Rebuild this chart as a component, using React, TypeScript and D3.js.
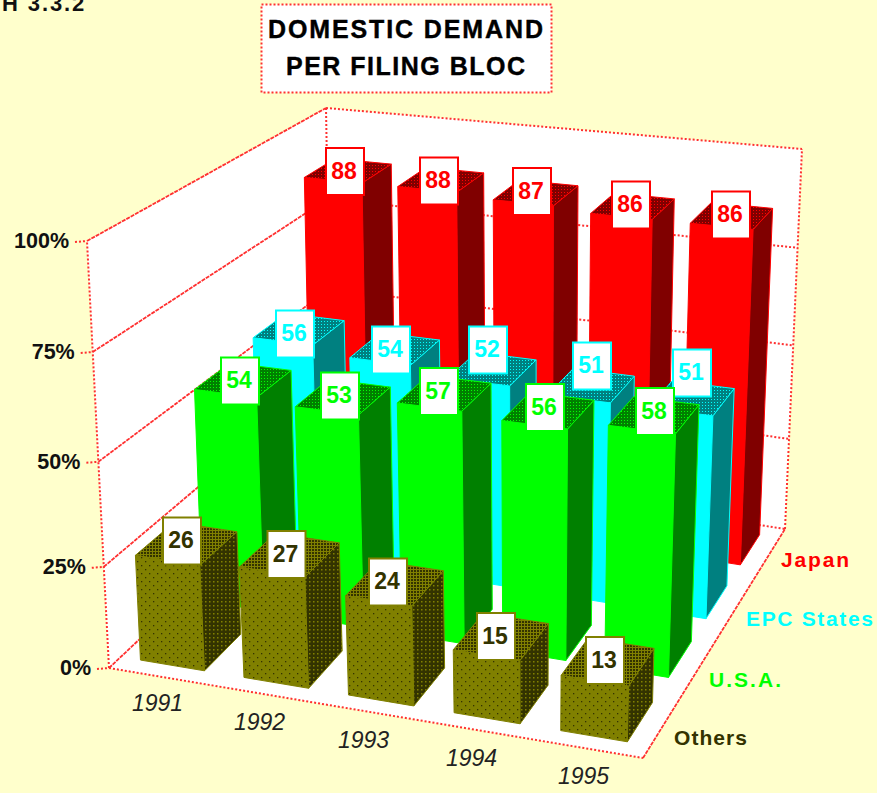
import React from "react";
import * as d3 from "d3";

const years = ["1991", "1992", "1993", "1994", "1995"];
const rows = ["Japan", "EPC States", "U.S.A.", "Others"];
const japan = [88, 88, 87, 86, 86];
const epc = [56, 54, 52, 51, 51];
const usa = [54, 53, 57, 56, 58];
const others = [26, 27, 24, 15, 13];
const seriesValues = [japan, epc, usa, others];
const pctTicks = [0, 25, 50, 75, 100];

type P = [number, number];
const W = 877, H = 793;

function homography(p00: P, p10: P, p11: P, p01: P) {
  const [x0, y0] = p00, [x1, y1] = p10, [x2, y2] = p11, [x3, y3] = p01;
  const dx1 = x1 - x2, dx2 = x3 - x2, sx = x0 - x1 + x2 - x3;
  const dy1 = y1 - y2, dy2 = y3 - y2, sy = y0 - y1 + y2 - y3;
  const d = dx1 * dy2 - dx2 * dy1;
  const g = (sx * dy2 - dx2 * sy) / d, h = (dx1 * sy - sx * dy1) / d;
  const a = x1 - x0 + g * x1, b = x3 - x0 + h * x3, c = x0;
  const e = y1 - y0 + g * y1, f = y3 - y0 + h * y3, k = y0;
  return (u: number, v: number): P => {
    const w = g * u + h * v + 1;
    return [(a * u + b * v + c) / w, (e * u + f * v + k) / w];
  };
}
const floorH = homography([109, 668], [643, 758], [785, 529], [332, 458]);
const topH = homography([87, 241], [655, 301], [802, 149], [326, 108]);

const zScale = d3.scaleLinear().domain(pctTicks).range([0, 0.237, 0.483, 0.74, 1]);
const uBand = d3.scaleBand<string>().domain(years).range([0, 0.995]).paddingInner(0.38).paddingOuter(0.19);
const vBand = d3.scaleBand<string>().domain([...rows].reverse()).range([0, 1]).paddingInner(0.4).paddingOuter(0.18);

function proj(u: number, v: number, pct: number): P {
  const t = zScale(pct);
  const a = floorH(u, v), b = topH(u, v);
  return [a[0] + (b[0] - a[0]) * t, a[1] + (b[1] - a[1]) * t];
}
const poly = (pts: P[]) => d3.line()(pts) + "Z";

const palette: Record<string, { front: string; side: string; topDot: string; topBase: string; line: string; text: string; box: string }> = {
  Japan: { front: "#ff0000", side: "#800000", topBase: "#800000", topDot: "#ff0000", line: "#ff0000", text: "#ff0000", box: "#ff0000" },
  "EPC States": { front: "#00ffff", side: "#008080", topBase: "#008080", topDot: "#00ffff", line: "#00ffff", text: "#00ffff", box: "#00ffff" },
  "U.S.A.": { front: "#00ff00", side: "#008000", topBase: "#008000", topDot: "#00ff00", line: "#00ff00", text: "#00ff00", box: "#00ff00" },
  Others: { front: "#808000", side: "#333300", topBase: "#333300", topDot: "#808000", line: "#808000", text: "#333300", box: "#808000" },
};
const legendLayout: Record<string, [number, number, number]> = {
  Japan: [781, 567, 68],
  "EPC States": [746, 626, 127],
  "U.S.A.": [709, 687, 72],
  Others: [674, 745, 73],
};
const yearPos: P[] = [[132, 711], [234, 730], [338, 748], [446, 766], [558, 784]];
const labelCenters: P[][] = [
  [[345, 171.5], [439, 181], [532, 191.5], [631, 205], [731, 215]],
  [[295, 334], [391, 350], [488, 350], [592, 366], [692, 373]],
  [[240, 381], [340, 396], [439, 391.5], [545, 407.5], [655, 411.5]],
  [[182, 541], [286.5, 554.5], [388, 582], [496, 636.5], [605, 660.5]],
];

const font = "'Liberation Sans', Arial, sans-serif";
const GRID = "#ff3030";

function Defs() {
  return (
    <defs>
      {rows.map((r, i) => {
        const c = palette[r];
        if (r === "Others") {
          return (
            <pattern key={r} id={`top${i}`} width="3" height="3" patternUnits="userSpaceOnUse">
              <rect width="3" height="3" fill="#808000" />
              <rect x="0" y="0" width="2" height="2" fill="#333300" />
            </pattern>
          );
        }
        return (
          <pattern key={r} id={`top${i}`} width="3" height="3" patternUnits="userSpaceOnUse">
            <rect width="3" height="3" fill={c.topBase} />
            <rect x="0" y="0" width="1" height="1" fill={c.topDot} />
          </pattern>
        );
      })}
      <pattern id="olvFront" width="8" height="8" patternUnits="userSpaceOnUse">
        <rect width="8" height="8" fill="#808000" />
        <rect x="1" y="1" width="1.3" height="1.3" fill="#333300" />
        <rect x="5" y="5" width="1.3" height="1.3" fill="#333300" />
      </pattern>
      <pattern id="olvSide" width="4" height="4" patternUnits="userSpaceOnUse">
        <rect width="4" height="4" fill="#333300" />
        <rect x="1" y="1" width="1.5" height="1.5" fill="#808000" />
      </pattern>
    </defs>
  );
}

function Bar({ r, ri, yi }: { r: string; ri: number; yi: number }) {
  const c = palette[r];
  const val = seriesValues[ri][yi];
  const u0 = uBand(years[yi])!, u1 = u0 + uBand.bandwidth();
  const v0 = vBand(r)!, v1 = v0 + vBand.bandwidth();
  const fbl = proj(u0, v0, 0), fbr = proj(u1, v0, 0), bbr = proj(u1, v1, 0);
  const ftl = proj(u0, v0, val), ftr = proj(u1, v0, val), btr = proj(u1, v1, val), btl = proj(u0, v1, val);
  const [cx, cy] = labelCenters[ri][yi];
  const isOlive = r === "Others";
  return (
    <g>
      <path d={poly([fbl, fbr, ftr, ftl])} fill={isOlive ? "url(#olvFront)" : c.front} stroke={c.line} strokeWidth={1} />
      <path d={poly([fbr, bbr, btr, ftr])} fill={isOlive ? "url(#olvSide)" : c.side} stroke={c.line} strokeWidth={1} />
      <path d={poly([ftl, ftr, btr, btl])} fill={`url(#top${ri})`} stroke={c.line} strokeWidth={1} />
      <rect x={cx - 19} y={cy - 23.5} width={38} height={47} fill="#fff" stroke={c.box} strokeWidth={2} />
      <text x={cx - 1} y={cy + 7} textAnchor="middle" fontFamily={font} fontWeight="bold" fontSize={23} fill={c.text}>{val}</text>
    </g>
  );
}

const dotted = { fill: "none", stroke: GRID, strokeWidth: 2, strokeDasharray: "2 2" };
const dense = { fill: "none", stroke: GRID, strokeWidth: 1.8, strokeDasharray: "4 1" };

export default function App() {
  const O = proj(0, 0, 0), X = proj(1, 0, 0), XY = proj(1, 1, 0), Y = proj(0, 1, 0);
  const Z = proj(0, 0, 100), YZ = proj(0, 1, 100), XYZ = proj(1, 1, 100);
  return (
    <svg width={W} height={H} viewBox={`0 0 ${W} ${H}`} style={{ position: "fixed", left: 0, top: 0, display: "block" }}>
      <Defs />
      <rect width={W} height={H} fill="#ffffcc" />
      <text x={2} y={11} fontFamily={font} fontWeight="bold" fontSize={22} letterSpacing={1.9} fill="#111">H 3.3.2</text>

      <rect x={261.5} y={4.5} width={290} height={88} fill="#fff" stroke={GRID} strokeWidth={2} strokeDasharray="2 2" />
      <text x={268} y={38} textLength={275} lengthAdjust="spacing" fontFamily={font} fontWeight="bold" fontSize={25} stroke="#000" strokeWidth={0.4} fill="#000">DOMESTIC DEMAND</text>
      <text x={286} y={75} textLength={239} lengthAdjust="spacing" fontFamily={font} fontWeight="bold" fontSize={25} stroke="#000" strokeWidth={0.4} fill="#000">PER FILING BLOC</text>

      <path d={poly([O, X, XY, XYZ, YZ, Z])} fill="#fff" />

      {pctTicks.map((t) => {
        const a = proj(0, 0, t), b = proj(0, 1, t), c = proj(1, 1, t);
        return (
          <g key={t}>
            <path d={d3.line()([a, b])!} {...dense} />
            <path d={d3.line()([b, c])!} {...dotted} />
            <path d={d3.line()([[a[0] - 12, a[1] + 1], a])!} {...dotted} />
            <text x={a[0] - 18} y={a[1] + 7} textAnchor="end" fontFamily={font} fontWeight="bold" fontSize={21.5} fill="#111">{t}%</text>
          </g>
        );
      })}
      <path d={d3.line()([O, Z])!} {...dotted} />
      <path d={d3.line()([Y, YZ])!} {...dotted} />
      <path d={d3.line()([XY, XYZ])!} {...dotted} />
      <path d={d3.line()([O, X])!} {...dotted} />
      <path d={d3.line()([X, XY])!} {...dense} />

      {rows.map((r, ri) => years.map((_, yi) => <Bar key={r + yi} r={r} ri={ri} yi={yi} />))}

      {years.map((y, i) => (
        <text key={y} x={yearPos[i][0]} y={yearPos[i][1]} fontFamily={font} fontStyle="italic" fontSize={23} fill="#222">{y}</text>
      ))}
      {rows.map((r) => (
        <text key={r} x={legendLayout[r][0]} y={legendLayout[r][1]} textLength={legendLayout[r][2]} lengthAdjust="spacing" fontFamily={font} fontWeight="bold" fontSize={21} fill={palette[r].text}>{r}</text>
      ))}
    </svg>
  );
}
